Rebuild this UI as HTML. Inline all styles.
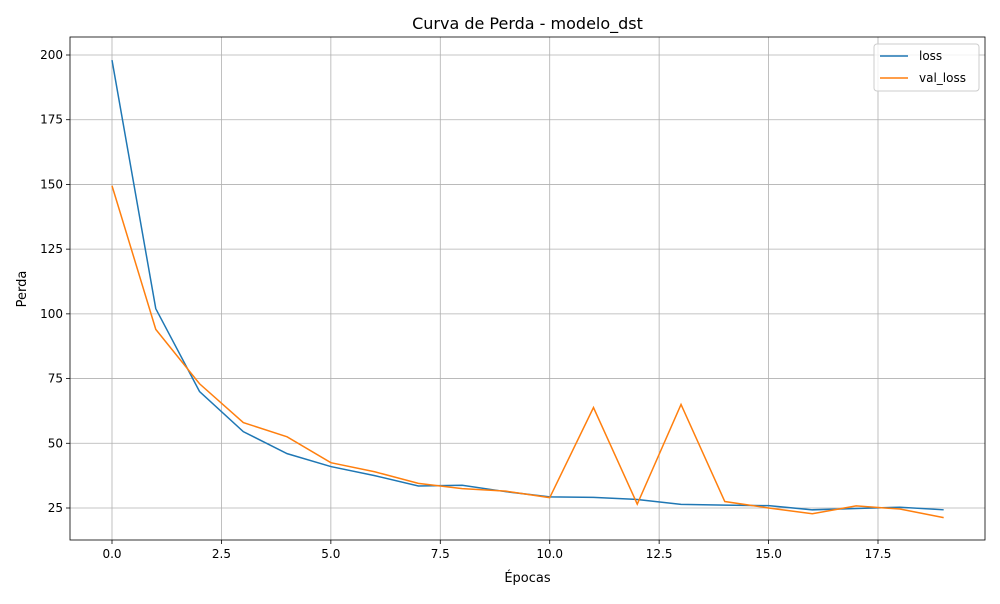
<!DOCTYPE html>
<html><head><meta charset="utf-8"><style>
body{margin:0;background:#fff;font-family:"DejaVu Sans","Liberation Sans",sans-serif;}
svg text{font-family:"DejaVu Sans","Liberation Sans",sans-serif;}
</style></head><body>
<svg id="chart" width="1000" height="600" xmlns="http://www.w3.org/2000/svg"></svg>
<script>
const epochs=[0,1,2,3,4,5,6,7,8,9,10,11,12,13,14,15,16,17,18,19];
const lossValues=[198,102,70,54.5,46,41,37.5,33.5,33.8,31.3,29.3,29.1,28.3,26.4,26.1,25.9,24.3,24.8,25.3,24.3];
const valLossValues=[149.5,94,73,58,52.5,42.5,39,34.5,32.5,31.5,29,63.8,26.5,65,27.5,25,22.8,25.8,24.6,21.3];
const xTicks=[0,2.5,5,7.5,10,12.5,15,17.5];
const xTickLabels=["0.0","2.5","5.0","7.5","10.0","12.5","15.0","17.5"];
const yTicks=[25,50,75,100,125,150,175,200];
const yTickLabels=["25","50","75","100","125","150","175","200"];
const NS="http://www.w3.org/2000/svg";
const svg=document.getElementById('chart');
const L=70,R=985,T=37,B=540;
const xs=v=>112+v*(878-112)/17.5;
const ys=v=>508-(v-25)*(508-55)/175;
function mk(tag,attrs,parent){const e=document.createElementNS(NS,tag);for(const k in attrs)e.setAttribute(k,attrs[k]);(parent||svg).appendChild(e);return e;}
const grid=mk('g',{});


xTicks.forEach((t,i)=>{
 const x=xs(t);
 mk('line',{x1:x,x2:x,y1:T,y2:B,stroke:'#b0b0b0','stroke-width':0.8},grid);
 mk('line',{x1:x,x2:x,y1:B,y2:B+4,stroke:'#000','stroke-width':0.8});
 const tx=mk('text',{x:x,y:B+18,'text-anchor':'middle','font-size':12,fill:'#000'});
 tx.textContent=xTickLabels[i];
 
 
});
yTicks.forEach((t,i)=>{
 const y=ys(t);
 mk('line',{x1:L,x2:R,y1:y,y2:y,stroke:'#b0b0b0','stroke-width':0.8},grid);
 mk('line',{x1:L-4,x2:L,y1:y,y2:y,stroke:'#000','stroke-width':0.8});
 const tx=mk('text',{x:L-7,y:y+4,'text-anchor':'end','font-size':12,fill:'#000'});
 tx.textContent=yTickLabels[i];
 
 
});
function series(vals,color,name){
 const p=mk('polyline',{points:vals.map((v,i)=>xs(epochs[i])+','+ys(v)).join(' '),fill:'none',stroke:color,'stroke-width':1.5});
 
 
}
series(lossValues,'#1f77b4','loss-line');
series(valLossValues,'#ff7f0e','val-loss-line');
const frame=mk('rect',{x:L,y:T,width:R-L,height:B-T,fill:'none',stroke:'#000','stroke-width':0.8});


const title=mk('text',{x:(L+R)/2,y:29,'text-anchor':'middle','font-size':16,fill:'#000'});
title.textContent='Curva de Perda - modelo_dst';


const xl=mk('text',{x:(L+R)/2,y:582,'text-anchor':'middle','font-size':13,fill:'#000'});
xl.textContent='Épocas';


const yl=mk('text',{x:0,y:0,'text-anchor':'middle','font-size':13,fill:'#000',transform:'translate(26,289) rotate(-90)'});
yl.textContent='Perda';


const lg=mk('g',{});


mk('rect',{x:874,y:44,width:105,height:47,rx:3,fill:'#fff','fill-opacity':0.8,stroke:'#ccc'},lg);
[['loss','#1f77b4',56],['val_loss','#ff7f0e',78]].forEach(([n,c,y])=>{
 mk('line',{x1:880,x2:908,y1:y,y2:y,stroke:c,'stroke-width':1.5},lg);
 const t=mk('text',{x:919,y:y+4,'font-size':12,fill:'#000'},lg);
 t.textContent=n;
 
 
});
</script>
</body></html>
